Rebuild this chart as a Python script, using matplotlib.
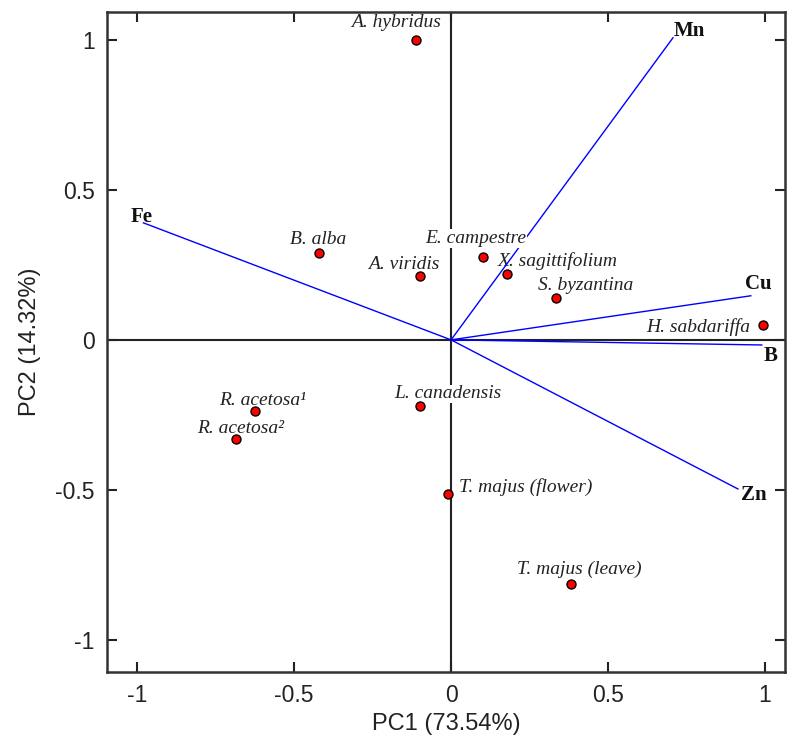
import matplotlib.pyplot as plt

# scores (samples)
samples = ['A. hybridus', 'B. alba', 'A. viridis', 'E. campestre', 'X. sagittifolium',
           'S. byzantina', 'H. sabdariffa', 'R. acetosa¹', 'R. acetosa²', 'L. canadensis',
           'T. majus (flower)', 'T. majus (leave)']
pc1 = [-0.111, -0.42, -0.099, 0.102, 0.178, 0.334, 0.994, -0.624, -0.685, -0.099, -0.01, 0.382]
pc2 = [1.0, 0.29, 0.213, 0.277, 0.22, 0.14, 0.05, -0.237, -0.33, -0.22, -0.513, -0.813]

# loadings (elements)
elements = ['Mn', 'Fe', 'Cu', 'B', 'Zn']
load1 = [0.707, -0.98, 0.955, 0.99, 0.914]
load2 = [1.007, 0.39, 0.147, -0.017, -0.497]

# label centre offsets from the point, in pixels
lab_off = {
    'A. hybridus': (-20, 17), 'B. alba': (-1, 13), 'A. viridis': (-16, 11),
    'E. campestre': (-7, 18), 'X. sagittifolium': (51, 13),
    'S. byzantina': (30, 12), 'H. sabdariffa': (-65, -2),
    'R. acetosa¹': (7, 10), 'R. acetosa²': (5, 10),
    'L. canadensis': (28, 12), 'T. majus (flower)': (78, 7),
    'T. majus (leave)': (8, 14),
}
# labels that sit on top of the zero lines (white background)
boxed = ['E. campestre', 'L. canadensis']
el_off = {'Mn': (16, 7), 'Fe': (-2, 6), 'Cu': (7, 12), 'B': (9, -11), 'Zn': (16, -6)}

fig = plt.figure(figsize=(7.87, 7.39), dpi=100)
ax = fig.add_axes([0.136, 0.0907, 0.8615, 0.8931])

ax.axhline(0, color='#222222', lw=1.5, zorder=1)
ax.axvline(0, color='#222222', lw=1.5, zorder=1)

for name, x, y in zip(elements, load1, load2):
    ax.plot([0, x], [0, y], color='#0000ff', lw=1.0, zorder=2)
    dx, dy = el_off[name]
    ax.annotate(name, (x, y), xytext=(dx, dy), textcoords='offset pixels',
                ha='center', va='center', fontsize=15, fontweight='bold',
                family='Liberation Serif', color='#111111', zorder=5)

ax.scatter(pc1, pc2, s=42, color='red', edgecolors='black', linewidths=1.0, zorder=6)

for name, x, y in zip(samples, pc1, pc2):
    dx, dy = lab_off[name]
    bbox = None
    if name in boxed:
        bbox = dict(facecolor='white', edgecolor='none', pad=0.5)
    ax.annotate(name, (x, y), xytext=(dx, dy), textcoords='offset pixels',
                ha='center', va='center', fontsize=14, style='italic',
                family='Liberation Serif', color='#222222', bbox=bbox,
                zorder=4 if bbox else 1.5)

ax.set_xlim(-1.096, 1.064)
ax.set_ylim(-1.107, 1.093)
ticks = [-1, -0.5, 0, 0.5, 1]
tlabels = ['-1', '-0.5', '0', '0.5', '1']
ax.set_xticks(ticks)
ax.set_xticklabels(tlabels)
ax.set_yticks(ticks)
ax.set_yticklabels(tlabels)
ax.tick_params(direction='in', length=7, width=1.5, top=True, right=True,
               labelsize=16.5, pad=9, colors='#222222')
for lab in ax.get_xticklabels() + ax.get_yticklabels():
    lab.set_family('Liberation Sans')
for s in ax.spines.values():
    s.set_linewidth(1.8)
    s.set_color('#333333')

ax.set_xlabel('PC1 (73.54%)', fontsize=17, family='Liberation Sans', labelpad=4, color='#222222')
ax.set_ylabel('PC2 (14.32%)', fontsize=17, family='Liberation Sans', labelpad=10, color='#222222')

fig.savefig('out.png', dpi=100)
